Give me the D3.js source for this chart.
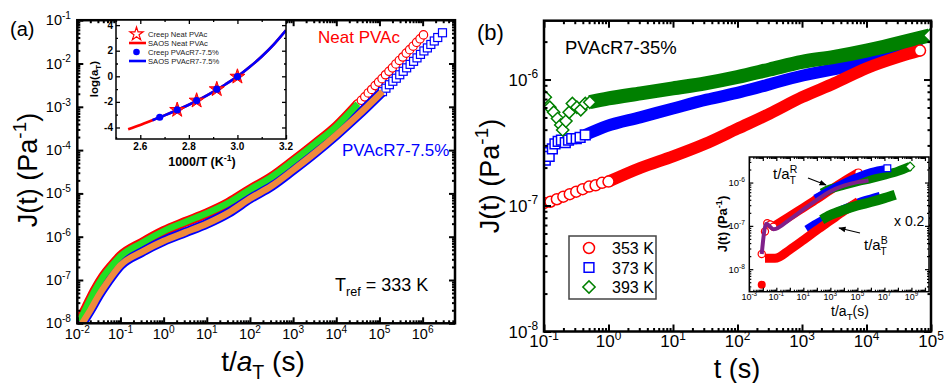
<!DOCTYPE html>
<html>
<head>
<meta charset="utf-8">
<script src="https://cdn.jsdelivr.net/npm/d3@7"></script>
<style>
  body { margin: 0; background: #fff; }
  svg { font-family: "Liberation Sans", Arial, sans-serif; }
</style>
</head>
<body>
<svg id="chart" width="945" height="383"></svg>
<script>
// ---------- panel (a): master curves, log10(t/aT) and log10(J) ----------
const neatLogT = [-1.95, -1.8, -1.6, -1.4, -1.2, -1.0, -0.5, 0, 0.5, 1.0, 1.5, 2.0, 2.5, 3.0, 3.5, 4.0, 4.5];
const neatLogJ = [-7.95, -7.65, -7.25, -6.92, -6.67, -6.45, -6.14, -5.87, -5.66, -5.46, -5.22, -4.91, -4.62, -4.25, -3.86, -3.45, -2.93];
const neatTailLogT = [4.50, 4.58, 4.66, 4.74, 4.82, 4.90, 4.98, 5.06, 5.14, 5.22, 5.30, 5.38, 5.46, 5.54, 5.62, 5.70, 5.78, 5.86, 5.94, 6.02];
const neatTailLogJ = [-2.93, -2.85, -2.77, -2.68, -2.60, -2.51, -2.43, -2.35, -2.26, -2.18, -2.10, -2.01, -1.93, -1.85, -1.76, -1.68, -1.60, -1.51, -1.43, -1.34];
const r7LogT = [-1.92, -1.7, -1.5, -1.3, -1.0, -0.5, 0, 0.5, 1.0, 1.5, 2.0, 2.5, 3.0, 3.5, 4.0, 4.5, 5.07];
const r7LogJ = [-8.05, -7.7, -7.35, -7.05, -6.66, -6.35, -6.10, -5.90, -5.70, -5.45, -5.12, -4.83, -4.46, -4.07, -3.65, -3.20, -2.65];
const r7TailLogT = [5.07, 5.15, 5.23, 5.31, 5.39, 5.47, 5.55, 5.63, 5.71, 5.79, 5.87, 5.95, 6.03, 6.11, 6.19, 6.27, 6.35, 6.46];
const r7TailLogJ = [-2.65, -2.57, -2.49, -2.41, -2.34, -2.26, -2.18, -2.10, -2.02, -1.95, -1.87, -1.79, -1.71, -1.64, -1.56, -1.48, -1.40, -1.29];

// inset (a): shift factors
const invT = [2.55, 2.6, 2.65, 2.7, 2.75, 2.8, 2.85, 2.9, 2.95, 3.0, 3.05, 3.1, 3.15, 3.2];
const saosLogAT = [-4.14, -3.8, -3.43, -3.05, -2.65, -2.22, -1.75, -1.22, -0.64, -0.02, 0.72, 1.55, 2.5, 3.6];
const creepNeatInvT = [2.752, 2.832, 2.915, 3.0];
const creepNeatLogAT = [-2.63, -1.90, -1.01, -0.03];
const creepR7InvT = [2.68, 2.752, 2.832, 2.915, 3.0];
const creepR7LogAT = [-3.20, -2.63, -1.90, -1.01, -0.03];

// ---------- panel (b): PVAcR7-35% creep, log10(t) and log10(J) ----------
const k353LogT = [-1.0, -0.9, -0.8, -0.7, -0.6, -0.5, -0.4, -0.3, -0.2, -0.1, 0, 0.5, 1.0, 1.5, 2.0, 2.5, 3.0, 3.5, 4.0, 4.5, 4.83];
const k353LogJ = [-6.98, -6.97, -6.95, -6.93, -6.91, -6.89, -6.87, -6.85, -6.84, -6.82, -6.81, -6.70, -6.61, -6.51, -6.39, -6.27, -6.14, -6.03, -5.91, -5.82, -5.77];
const k373LogT = [-0.98, -0.97, -0.92, -0.87, -0.83, -0.78, -0.73, -0.67, -0.62, -0.57, -0.50, -0.44, -0.36, -0.03, 0.49, 1.0, 1.52, 2.04, 2.92, 3.95, 4.88];
const k373LogJ = [-6.64, -6.58, -6.61, -6.55, -6.51, -6.49, -6.48, -6.50, -6.48, -6.47, -6.47, -6.46, -6.44, -6.37, -6.30, -6.23, -6.16, -6.10, -5.98, -5.87, -5.74];
const k393LogT = [-0.98, -0.91, -0.85, -0.79, -0.74, -0.71, -0.66, -0.61, -0.56, -0.49, -0.43, -0.36, -0.29, 0, 0.5, 1.0, 1.5, 2.0, 2.5, 3.0, 3.5, 4.0, 4.5, 4.98];
const k393LogJ = [-6.14, -6.22, -6.26, -6.31, -6.36, -6.40, -6.33, -6.26, -6.19, -6.22, -6.24, -6.19, -6.18, -6.15, -6.11, -6.07, -6.03, -5.98, -5.92, -5.86, -5.82, -5.77, -5.71, -5.65];
const legendLabels = ["353 K", "373 K", "393 K"];

// inset (b): shifted with t/aT^R (upper) and t/aT^B x0.2 (lower)
const upRedLogT = [-2.08, -1.84, -1.67, -1.45, -1.22, 0, 1, 2, 3, 4, 5.08];
const upRedLogJ = [-7.65, -7.13, -6.94, -6.97, -7.02, -6.78, -6.58, -6.38, -6.17, -5.97, -5.77];
const upBlueLogT = [1.87, 3, 4, 5, 6, 7.22];
const upBlueLogJ = [-6.36, -6.16, -6.00, -5.86, -5.75, -5.67];
const upGreenLogT = [2.36, 3, 4, 5, 6, 7, 8, 8.9];
const upGreenLogJ = [-6.24, -6.15, -6.06, -5.98, -5.91, -5.83, -5.74, -5.63];
const purpleLogT = [-2.08, -1.75, -1.2, 0, 1, 2, 3, 4, 5, 5.82];
const purpleLogJ = [-7.65, -6.95, -7.08, -6.85, -6.62, -6.40, -6.20, -6.07, -5.99, -5.95];
const loRedLogT = [-1.84, -1.1, 0, 1, 2, 3, 4, 5.07];
const loRedLogJ = [-7.75, -7.75, -7.55, -7.33, -7.10, -6.88, -6.66, -6.44];
const loRedDot = [-2.08, -8.36];
const loBlueLogT = [1.25, 2, 3, 4, 5, 6, 6.68];
const loBlueLogJ = [-7.09, -6.95, -6.78, -6.62, -6.48, -6.38, -6.32];
const loGreenLogT = [2.36, 3, 4, 5, 6, 7, 7.8];
const loGreenLogJ = [-6.86, -6.75, -6.63, -6.53, -6.45, -6.36, -6.28];

const svg = d3.select("#chart");
const pts = (xs, ys) => xs.map((v, i) => [v, ys[i]]);

// text with super/subscripts; parts = [[string, kind, dx]]
function rich(text, parts, fs) {
  let shift = 0;
  parts.forEach(([s, kind, dx]) => {
    const t = text.append("tspan").text(s);
    const target = kind === "sup" ? -0.42 * fs : kind === "sub" ? 0.3 * fs : 0;
    t.attr("dy", target - shift);
    shift = target;
    if (kind === "sup" || kind === "sub") t.attr("font-size", 0.7 * fs);
    if (kind === "i") t.attr("font-style", "italic");
    if (dx) t.attr("dx", dx);
  });
  return text;
}

function logTicks(scale) {
  const [lo, hi] = scale.domain();
  const major = [], minor = [];
  for (let k = Math.floor(Math.log10(lo)); k <= Math.ceil(Math.log10(hi)); k++) {
    for (let m = 1; m <= 9; m++) {
      const v = m * Math.pow(10, k);
      if (v < lo * 0.999 || v > hi * 1.001) continue;
      (m === 1 ? major : minor).push(v);
    }
  }
  return { major, minor };
}

function frame(g, x, y, xt, yt, big, small, tw, fw) {
  const [xa, xb] = x.range(), [ya, yb] = y.range();
  const sides = [
    [d3.axisBottom(x), `translate(0,${ya})`, xt],
    [d3.axisTop(x), `translate(0,${yb})`, xt],
    [d3.axisLeft(y), `translate(${xa},0)`, yt],
    [d3.axisRight(y), `translate(${xb},0)`, yt]
  ];
  sides.forEach(([ax, tr, t]) => {
    [[t.major, big], [t.minor, small]].forEach(([vals, len]) => {
      const a = g.append("g").attr("transform", tr)
        .call(ax.tickValues(vals).tickSize(-len).tickSizeOuter(0).tickFormat(""));
      a.select(".domain").remove();
      a.selectAll("text").remove();
      a.selectAll("line").attr("stroke", "#000").attr("stroke-width", tw);
    });
  });
  g.append("rect").attr("x", xa).attr("y", yb).attr("width", xb - xa).attr("height", ya - yb)
    .attr("fill", "none").attr("stroke", "#000").attr("stroke-width", fw);
}

function clip(id, x, y) {
  const [xa, xb] = x.range(), [ya, yb] = y.range();
  svg.append("clipPath").attr("id", id).append("rect")
    .attr("x", xa).attr("y", yb).attr("width", xb - xa).attr("height", ya - yb);
  return svg.append("g").attr("clip-path", `url(#${id})`);
}

// ================= panel (a) =================
const xa = d3.scaleLog().domain([1e-2, Math.pow(10, 6.75)]).range([77.3, 455]);
const ya = d3.scaleLog().domain([1e-8, 1e-1]).range([323.3, 20.2]);
const lineA = d3.line().x(d => xa(Math.pow(10, d[0]))).y(d => ya(Math.pow(10, d[1]))).curve(d3.curveMonotoneX);

const ga = clip("clipA", xa, ya);
ga.append("path").attr("d", lineA(pts(neatLogT, neatLogJ))).attr("fill", "none").attr("stroke", "#ff0000").attr("stroke-width", 10);
ga.selectAll(".nc").data(pts(neatTailLogT, neatTailLogJ)).join("circle")
  .attr("cx", d => xa(Math.pow(10, d[0]))).attr("cy", d => ya(Math.pow(10, d[1])))
  .attr("r", 4.2).attr("fill", "#fff").attr("stroke", "#ff0000").attr("stroke-width", 1.2);
ga.append("path").attr("d", lineA(pts(r7LogT, r7LogJ))).attr("fill", "none").attr("stroke", "#0000ff").attr("stroke-width", 10);
ga.selectAll(".rs").data(pts(r7TailLogT, r7TailLogJ)).join("rect")
  .attr("x", d => xa(Math.pow(10, d[0])) - 4).attr("y", d => ya(Math.pow(10, d[1])) - 4)
  .attr("width", 8).attr("height", 8).attr("fill", "#fff").attr("stroke", "#0000ff").attr("stroke-width", 1.2);
ga.append("path").attr("d", lineA(pts(neatLogT, neatLogJ))).attr("fill", "none").attr("stroke", "#22e022").attr("stroke-width", 6.5);
ga.append("path").attr("d", lineA(pts(r7LogT, r7LogJ))).attr("fill", "none").attr("stroke", "#f08a3c").attr("stroke-width", 6.5);

frame(svg.append("g"), xa, ya, logTicks(xa), logTicks(ya), 6, 3, 2, 2.5);

logTicks(xa).major.forEach(v => {
  rich(svg.append("text").attr("x", xa(v)).attr("y", 339).attr("text-anchor", "middle").attr("font-size", 14.5),
    [["10", "n"], [String(Math.round(Math.log10(v))), "sup"]], 14.5);
});
logTicks(ya).major.forEach(v => {
  rich(svg.append("text").attr("x", 71).attr("y", ya(v) + 5).attr("text-anchor", "end").attr("font-size", 14.5),
    [["10", "n"], [String(Math.round(Math.log10(v))), "sup"]], 14.5);
});
svg.append("text").attr("x", 10).attr("y", 36).attr("font-size", 20).text("(a)");
svg.append("text").attr("x", 318).attr("y", 43).attr("font-size", 17).attr("fill", "#ff0000").text("Neat PVAc");
svg.append("text").attr("x", 342).attr("y", 156).attr("font-size", 17).attr("fill", "#0000ff").text("PVAcR7-7.5%");
rich(svg.append("text").attr("x", 335).attr("y", 291).attr("font-size", 18), [["T", "n"], ["ref", "sub"], [" = 333 K", "n"]], 18);
rich(svg.append("text").attr("transform", "translate(37,170) rotate(-90)").attr("text-anchor", "middle").attr("font-size", 27),
  [["J(t) (Pa", "n"], ["-1", "sup"], [")", "n"]], 27);
rich(svg.append("text").attr("x", 263).attr("y", 371).attr("text-anchor", "middle").attr("font-size", 28),
  [["t/", "n"], ["a", "i"], ["T", "sub"], [" (s)", "n"]], 28);

// ---- inset (a) ----
const xi = d3.scaleLinear().domain([2.5, 3.2]).range([116, 286]);
const yi = d3.scaleLinear().domain([-4.9, 4.4]).range([139, 20]);
svg.append("rect").attr("x", 116).attr("y", 20).attr("width", 170).attr("height", 119).attr("fill", "#fff");
const gi = clip("clipI", xi, yi);
const lineI = d3.line().x(d => xi(d[0])).y(d => yi(d[1])).curve(d3.curveMonotoneX);
gi.append("path").attr("d", lineI(pts(invT, saosLogAT))).attr("fill", "none").attr("stroke", "#ff0000").attr("stroke-width", 2.6);
gi.append("path").attr("d", lineI(pts(invT, saosLogAT).filter(d => d[0] >= 2.65))).attr("fill", "none").attr("stroke", "#0000ff").attr("stroke-width", 2.6);
const star = d3.symbol().type(d3.symbolStar).size(70);
gi.selectAll(".st").data(pts(creepNeatInvT, creepNeatLogAT)).join("path")
  .attr("d", star).attr("transform", d => `translate(${xi(d[0])},${yi(d[1])})`)
  .attr("fill", "#ff3030").attr("stroke", "#ff0000").attr("stroke-width", 1);
gi.selectAll(".bd").data(pts(creepR7InvT, creepR7LogAT)).join("circle")
  .attr("cx", d => xi(d[0])).attr("cy", d => yi(d[1])).attr("r", 3.6).attr("fill", "#0000ff");
frame(svg.append("g"), xi, yi,
  { major: [2.6, 2.8, 3.0, 3.2], minor: [2.5, 2.7, 2.9, 3.1] },
  { major: [-4, -2, 0, 2, 4], minor: [-3, -1, 1, 3] }, 4, 2, 1.3, 1.5);
[2.6, 2.8, 3.0, 3.2].forEach(v => svg.append("text").attr("x", xi(v)).attr("y", 150).attr("text-anchor", "middle")
  .attr("font-size", 10).attr("font-weight", "bold").text(v.toFixed(1)));
[-4, -2, 0, 2, 4].forEach(v => svg.append("text").attr("x", 113).attr("y", yi(v) + 3.5).attr("text-anchor", "end")
  .attr("font-size", 10).attr("font-weight", "bold").text(v));
rich(svg.append("text").attr("x", 202).attr("y", 166).attr("text-anchor", "middle").attr("font-size", 12.5).attr("font-weight", "bold"),
  [["1000/T (K", "n"], ["-1", "sup"], [")", "n"]], 12.5);
rich(svg.append("text").attr("transform", "translate(98,79) rotate(-90)").attr("text-anchor", "middle").attr("font-size", 11.5).attr("font-weight", "bold"),
  [["log(a", "n"], ["T", "sub"], [")", "n"]], 11.5);
// inset legend
const legA = [["Creep Neat PVAc", "star"], ["SAOS Neat PVAc", "red"], ["Creep PVAcR7-7.5%", "dot"], ["SAOS PVAcR7-7.5%", "blue"]];
legA.forEach(([lab, kind], i) => {
  const cy = 34 + i * 9;
  if (kind === "star") svg.append("path").attr("d", d3.symbol().type(d3.symbolStar).size(55))
    .attr("transform", `translate(136.5,${cy})`).attr("fill", "#fff").attr("stroke", "#ff0000").attr("stroke-width", 1.2);
  if (kind === "dot") svg.append("circle").attr("cx", 136.5).attr("cy", cy).attr("r", 3.3).attr("fill", "#0000ff");
  if (kind === "red" || kind === "blue") svg.append("line").attr("x1", 129).attr("x2", 146).attr("y1", cy).attr("y2", cy)
    .attr("stroke", kind === "red" ? "#ff0000" : "#0000ff").attr("stroke-width", 2.6);
  svg.append("text").attr("x", 148).attr("y", cy + 2.7).attr("font-size", 7.6).attr("fill", "#222").text(lab);
});

// ================= panel (b) =================
const xb = d3.scaleLog().domain([1e-1, 1e5]).range([544, 931]);
const yb = d3.scaleLog().domain([1e-8, Math.pow(10, -5.533)]).range([331.5, 20.7]);
const lineB = d3.line().x(d => xb(Math.pow(10, d[0]))).y(d => yb(Math.pow(10, d[1]))).curve(d3.curveMonotoneX);
const gb = clip("clipB", xb, yb);
const sq = d3.symbol().type(d3.symbolSquare).size(95);
const dia = d3.symbol().type(d3.symbolSquare).size(75);
const posB = d => `translate(${xb(Math.pow(10, d[0]))},${yb(Math.pow(10, d[1]))})`;

// 373 K
const s373 = pts(k373LogT, k373LogJ);
gb.append("path").attr("d", lineB(s373.slice(12))).attr("fill", "none").attr("stroke", "#0000ff").attr("stroke-width", 12);
gb.selectAll(".b3").data(s373.slice(0, 13)).join("path").attr("d", sq).attr("transform", posB)
  .attr("fill", "#fff").attr("stroke", "#0000ff").attr("stroke-width", 1.5);
// 393 K
const s393 = pts(k393LogT, k393LogJ);
gb.append("path").attr("d", lineB(s393.slice(12))).attr("fill", "none").attr("stroke", "#008000").attr("stroke-width", 14);
gb.selectAll(".g3").data(s393.slice(0, 13)).join("path").attr("d", dia).attr("transform", d => posB(d) + " rotate(45)")
  .attr("fill", "#fff").attr("stroke", "#008000").attr("stroke-width", 1.5);
gb.append("path").attr("d", dia).attr("transform", posB(s393[s393.length - 1]) + " rotate(45)")
  .attr("fill", "#fff").attr("stroke", "#008000").attr("stroke-width", 1.5);
// 353 K
const s353 = pts(k353LogT, k353LogJ);
gb.append("path").attr("d", lineB(s353.slice(10))).attr("fill", "none").attr("stroke", "#ff0000").attr("stroke-width", 12);
gb.selectAll(".r3").data(s353.slice(0, 11).concat([s353[s353.length - 1]])).join("circle")
  .attr("cx", d => xb(Math.pow(10, d[0]))).attr("cy", d => yb(Math.pow(10, d[1])))
  .attr("r", 5.5).attr("fill", "#fff").attr("stroke", "#ff0000").attr("stroke-width", 1.5);

frame(svg.append("g"), xb, yb, logTicks(xb), logTicks(yb), 7, 3.5, 2, 2.5);
logTicks(xb).major.forEach(v => {
  rich(svg.append("text").attr("x", xb(v)).attr("y", 347).attr("text-anchor", "middle").attr("font-size", 17),
    [["10", "n"], [String(Math.round(Math.log10(v))), "sup"]], 17);
});
logTicks(yb).major.forEach(v => {
  rich(svg.append("text").attr("x", 538).attr("y", yb(v) + 6).attr("text-anchor", "end").attr("font-size", 17),
    [["10", "n"], [String(Math.round(Math.log10(v))), "sup"]], 17);
});
svg.append("text").attr("x", 477).attr("y", 40).attr("font-size", 22).text("(b)");
svg.append("text").attr("x", 565).attr("y", 54).attr("font-size", 18.5).text("PVAcR7-35%");
rich(svg.append("text").attr("transform", "translate(499,176) rotate(-90)").attr("text-anchor", "middle").attr("font-size", 27),
  [["J(t) (Pa", "n"], ["-1", "sup"], [")", "n"]], 27);
svg.append("text").attr("x", 737).attr("y", 378).attr("text-anchor", "middle").attr("font-size", 27).text("t (s)");

// legend (b)
svg.append("rect").attr("x", 569).attr("y", 236).attr("width", 87).attr("height", 63)
  .attr("fill", "#fff").attr("stroke", "#444").attr("stroke-width", 1.5);
legendLabels.forEach((lab, i) => {
  const cy = 248 + i * 19.5;
  if (i === 0) svg.append("circle").attr("cx", 589).attr("cy", cy).attr("r", 5.5).attr("fill", "#fff").attr("stroke", "#ff0000").attr("stroke-width", 1.5);
  if (i === 1) svg.append("path").attr("d", sq).attr("transform", `translate(589,${cy})`).attr("fill", "#fff").attr("stroke", "#0000ff").attr("stroke-width", 1.5);
  if (i === 2) svg.append("path").attr("d", dia).attr("transform", `translate(589,${cy}) rotate(45)`).attr("fill", "#fff").attr("stroke", "#008000").attr("stroke-width", 1.5);
  svg.append("text").attr("x", 612).attr("y", cy + 6).attr("font-size", 16).text(lab);
});

// ---- inset (b) ----
const xj = d3.scaleLog().domain([1e-3, Math.pow(10, 10.3)]).range([749.3, 929]);
const yj = d3.scaleLog().domain([Math.pow(10, -8.52), Math.pow(10, -5.41)]).range([291.7, 157]);
svg.append("rect").attr("x", 749.3).attr("y", 157).attr("width", 179.7).attr("height", 134.7).attr("fill", "#fff");
const gj = clip("clipJ", xj, yj);
const lineJ = d3.line().x(d => xj(Math.pow(10, d[0]))).y(d => yj(Math.pow(10, d[1]))).curve(d3.curveMonotoneX);
const posJ = d => `translate(${xj(Math.pow(10, d[0]))},${yj(Math.pow(10, d[1]))})`;
const band = (xs, ys, col, w) => gj.append("path").attr("d", lineJ(pts(xs, ys))).attr("fill", "none").attr("stroke", col).attr("stroke-width", w);

// upper group
const upRed = pts(upRedLogT, upRedLogJ);
gj.append("path").attr("d", lineJ(upRed.slice(4))).attr("fill", "none").attr("stroke", "#ff0000").attr("stroke-width", 9);
gj.selectAll(".ur").data(upRed.slice(0, 5).concat([upRed[upRed.length - 1]])).join("circle")
  .attr("transform", posJ).attr("r", 3.6).attr("fill", "#fff").attr("stroke", "#ff0000").attr("stroke-width", 1.2);
band(upGreenLogT, upGreenLogJ, "#008000", 9);
gj.append("path").attr("d", d3.symbol().type(d3.symbolSquare).size(40)).attr("transform", posJ([upGreenLogT[7], upGreenLogJ[7]]) + " rotate(45)")
  .attr("fill", "#fff").attr("stroke", "#008000").attr("stroke-width", 1.2);
band(upBlueLogT, upBlueLogJ, "#0000ff", 7);
gj.append("path").attr("d", d3.symbol().type(d3.symbolSquare).size(45)).attr("transform", posJ([upBlueLogT[5], upBlueLogJ[5]]))
  .attr("fill", "#fff").attr("stroke", "#0000ff").attr("stroke-width", 1.2);
// lower group
band(loBlueLogT, loBlueLogJ, "#0000ff", 9);
band(loRedLogT, loRedLogJ, "#ff0000", 9);
band(loGreenLogT, loGreenLogJ, "#008000", 10);
gj.append("circle").attr("transform", posJ(loRedDot)).attr("r", 4).attr("fill", "#ff0000");
band(purpleLogT, purpleLogJ, "#80208a", 4);

const xjt = logTicks(xj);
frame(svg.append("g"), xj, yj, xjt, logTicks(yj), 4, 2, 1.2, 1.5);
[-3, -1, 1, 3, 5, 7, 9].forEach(k => {
  rich(svg.append("text").attr("x", xj(Math.pow(10, k))).attr("y", 300).attr("text-anchor", "middle").attr("font-size", 9),
    [["10", "n"], [String(k), "sup"]], 9);
});
[-8, -7, -6].forEach(k => {
  rich(svg.append("text").attr("x", 745).attr("y", yj(Math.pow(10, k)) + 3.5).attr("text-anchor", "end").attr("font-size", 9.5),
    [["10", "n"], [String(k), "sup"]], 9.5);
});
rich(svg.append("text").attr("transform", "translate(727,224) rotate(-90)").attr("text-anchor", "middle").attr("font-size", 13).attr("font-weight", "bold"),
  [["J(t) (Pa", "n"], ["-1", "sup"], [")", "n"]], 13);
rich(svg.append("text").attr("x", 850).attr("y", 316).attr("text-anchor", "middle").attr("font-size", 14),
  [["t/a", "n"], ["T", "sub"], ["(s)", "n"]], 14);

// annotations
rich(svg.append("text").attr("x", 773).attr("y", 179).attr("font-size", 15),
  [["t/a", "n"], ["R", "sup"], ["T", "sub", -7.5]], 15);
rich(svg.append("text").attr("x", 864).attr("y", 250).attr("font-size", 15),
  [["t/a", "n"], ["B", "sup"], ["T", "sub", -7.5]], 15);
svg.append("text").attr("x", 894).attr("y", 226).attr("font-size", 14).text("x 0.2");
svg.append("defs").append("marker").attr("id", "arr").attr("viewBox", "0 0 10 10").attr("refX", 9).attr("refY", 5)
  .attr("markerWidth", 6).attr("markerHeight", 6).attr("orient", "auto")
  .append("path").attr("d", "M0,1 L10,5 L0,9 Z").attr("fill", "#000");
svg.append("line").attr("x1", 808).attr("y1", 178).attr("x2", 826).attr("y2", 185).attr("stroke", "#000").attr("stroke-width", 1.2).attr("marker-end", "url(#arr)");
svg.append("line").attr("x1", 860).attr("y1", 233).attr("x2", 839).attr("y2", 228).attr("stroke", "#000").attr("stroke-width", 1.2).attr("marker-end", "url(#arr)");
</script>
</body>
</html>
